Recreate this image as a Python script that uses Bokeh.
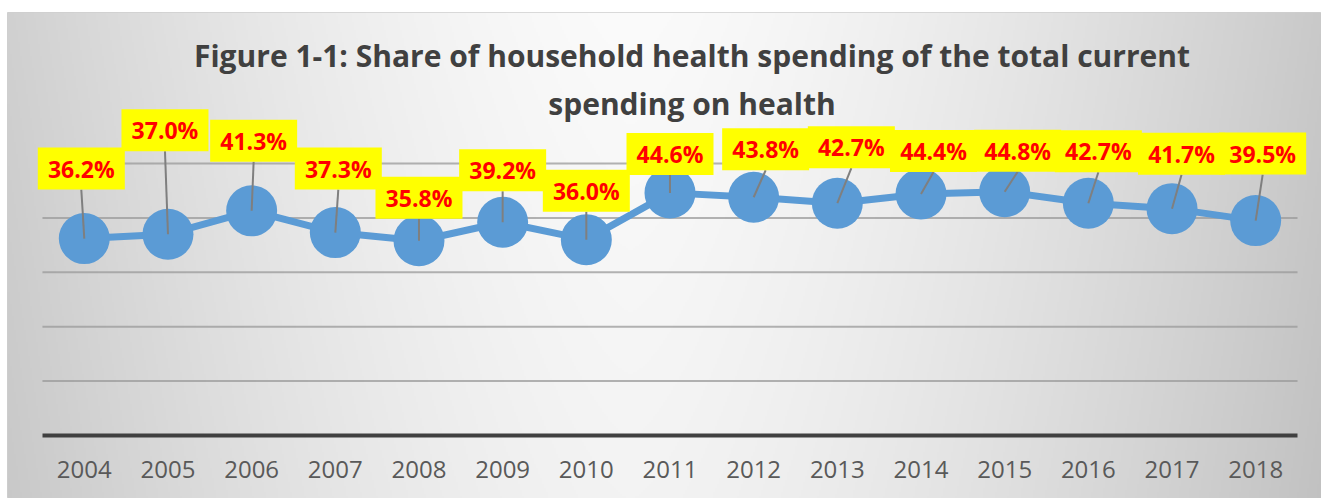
import numpy as np
from bokeh.plotting import figure
from bokeh.models import Range1d, FixedTicker, ColumnDataSource, Label
from bokeh.embed import file_html
from bokeh.resources import INLINE
from bokeh.core.properties import value

# ---------------- data ----------------
years = [2004, 2005, 2006, 2007, 2008, 2009, 2010, 2011, 2012, 2013, 2014, 2015, 2016, 2017, 2018]
share = [36.2, 37.0, 41.3, 37.3, 35.8, 39.2, 36.0, 44.6, 43.8, 42.7, 44.4, 44.8, 42.7, 41.7, 39.5]
value_labels = [f"{v:.1f}%" for v in share]
grid_ticks = [10, 20, 30, 40, 50]
title_lines = ["Figure 1-1: Share of household health spending of the total current",
               "spending on health"]

# ---------------- layout (data-label placement, px) ----------------
label_dx_px = [-3, -3, 2, 3, 0, 0, 0, 0, 12, 14, 12.5, 13, 10, 9.5, 7]
label_rise_px = [70, 104, 70, 64, 43, 52, 49, 39, 48, 56, 43, 41, 52, 55, 67]

FL, FT = 7, 12            # figure position on page
W, H = 1314, 486
PXX, PXY = 83.67, 5.44    # px per year, px per percentage point
X_ANCHOR_PX = 83.8        # page x of first year
Y_ZERO_PX = 435           # page y of 0 %

X0 = years[0] - (X_ANCHOR_PX - FL) / PXX
X1 = X0 + W / PXX
Y1 = (Y_ZERO_PX - FT) / PXY
Y0 = Y1 - H / PXY

p = figure(width=W, height=H, output_backend="svg", toolbar_location=None,
           x_range=Range1d(X0, X1), y_range=Range1d(Y0, Y1),
           min_border=0, min_border_left=0, min_border_right=0,
           min_border_top=0, min_border_bottom=0)
p.margin = (FT, 0, 0, FL)
p.outline_line_color = "#cfcfcf"
p.outline_line_width = 1
p.background_fill_color = "#dedede"
p.border_fill_color = "#dedede"
p.xgrid.visible = False
p.ygrid.visible = False
p.yaxis.visible = False

# ---- background gradient (light centre, darker sides) ----
ny, nx = H // 2, W // 2
jj, ii = np.mgrid[0:ny, 0:nx]
page_y = FT + (ny - jj - 0.5) * (H / ny)   # row 0 = bottom
page_x = FL + (ii + 0.5) * (W / nx)
dxn = np.abs(page_x - 630) / 695.0
v = 243 + 8 * (1 - page_y / 499.0) - 50 * dxn ** 1.5
v = np.clip(v, 0, 255).astype(np.uint32)
img = (np.uint32(255) << 24) | (v << 16) | (v << 8) | v
p.image_rgba(image=[img.astype(np.uint32)], x=X0, y=Y0, dw=X1 - X0, dh=Y1 - Y0)

# ---- gridlines ----
p.segment(x0=[years[0] - 0.5] * len(grid_ticks), x1=[years[-1] + 0.5] * len(grid_ticks),
          y0=grid_ticks, y1=grid_ticks, line_color="#9a9a9a", line_width=2, line_alpha=0.75)

# ---- x axis at 0 ----
ax = p.xaxis[0]
ax.fixed_location = 0
ax.bounds = (years[0] - 0.5, years[-1] + 0.5)
ax.ticker = FixedTicker(ticks=years)
ax.major_label_overrides = {y: str(y) for y in years}
ax.axis_line_color = "#404040"
ax.axis_line_width = 4
ax.major_tick_line_color = None
ax.minor_tick_line_color = None
ax.major_label_standoff = 19
ax.major_label_text_font = "Open Sans"
ax.major_label_text_font_size = "24px"
ax.major_label_text_color = "#595959"

# ---- series ----
src = ColumnDataSource(dict(x=years, y=share))
p.line("x", "y", source=src, line_color="#5B9BD5", line_width=7)
p.scatter("x", "y", source=src, size=51, fill_color="#5B9BD5", line_color=None)

# ---- data labels with leader lines ----
lx = [x + dx / PXX for x, dx in zip(years, label_dx_px)]
ly = [y + dy / PXY for y, dy in zip(share, label_rise_px)]
box_h = 42
p.segment(x0=years, y0=share, x1=lx, y1=[y - (box_h / 2) / PXY for y in ly],
          line_color="#7f7f7f", line_width=2)
p.rect(x=lx, y=ly, width=87, height=box_h, width_units="screen", height_units="screen",
       fill_color="#FFFF00", line_color=None)
p.text(x=lx, y=ly, text=value_labels, text_align="center", text_baseline="middle",
       text_color="#FF0000", text_font=value("Open Sans"), text_font_style="bold",
       text_font_size="23px")

# ---- title ----
tx = X0 + (691.5 - FL) / PXX
for line, base_y in zip(title_lines, [55, 103]):
    p.add_layout(Label(x=tx, y=(Y_ZERO_PX - base_y) / PXY, text=line, text_align="center",
                       text_baseline="alphabetic", text_font="Open Sans",
                       text_font_style="bold", text_font_size="30px",
                       text_color="#404040"))

open("out.html", "w").write(file_html(p, INLINE))
